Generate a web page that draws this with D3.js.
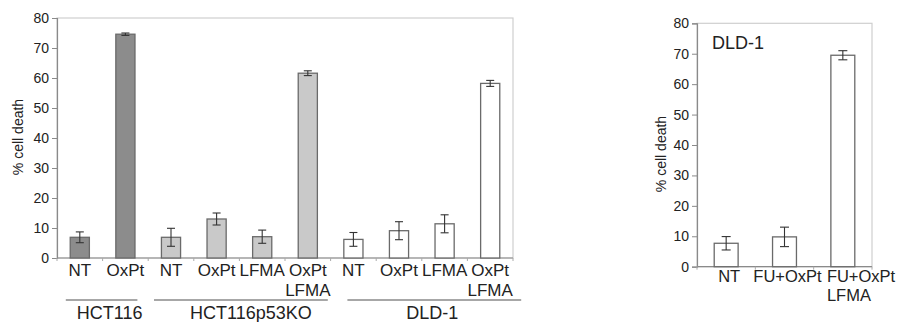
<!DOCTYPE html>
<html>
<head>
<meta charset="utf-8">
<script src="https://cdn.jsdelivr.net/npm/d3@7"></script>
<style>
  body { margin: 0; background: #fff; }
  svg { display: block; font-family: "Liberation Sans", Arial, sans-serif; }
</style>
</head>
<body>
<svg width="899" height="322"></svg>
<script>
// left panel data
const leftLabels = [["NT"], ["OxPt"], ["NT"], ["OxPt"], ["LFMA"], ["OxPt", "LFMA"], ["NT"], ["OxPt"], ["LFMA"], ["OxPt", "LFMA"]];
const leftGroups = ["HCT116", "HCT116", "HCT116p53KO", "HCT116p53KO", "HCT116p53KO", "HCT116p53KO", "DLD-1", "DLD-1", "DLD-1", "DLD-1"];
const leftValues = [6.9, 74.6, 6.9, 13.0, 7.1, 61.6, 6.2, 9.1, 11.4, 58.2];
const leftErrors = [1.8, 0.4, 3.0, 2.0, 2.2, 0.8, 2.3, 3.0, 3.0, 1.0];
const groupNames = ["HCT116", "HCT116p53KO", "DLD-1"];

// right panel data
const rightLabels = [["NT"], ["FU+OxPt"], ["FU+OxPt", "LFMA"]];
const rightValues = [7.7, 9.8, 69.5];
const rightErrors = [2.2, 3.2, 1.5];
const rightTitle = "DLD-1";

const yTicks = [0, 10, 20, 30, 40, 50, 60, 70, 80];
const yLabel = "% cell death";

// styling
const groupFill = { "HCT116": "#8c8c8c", "HCT116p53KO": "#c9c9c9", "DLD-1": "#ffffff" };
// per group line padding [left, right] and label shift
const groupLayout = {
  "HCT116": { l: 14, r: 12, dx: 8 },
  "HCT116p53KO": { l: 17, r: 20, dx: 10 },
  "DLD-1": { l: 6, r: 31, dx: -2 }
};
const textColor = "#222";

const svg = d3.select("svg");

function panel(cfg) {
  const x = d3.scaleBand()
    .domain(d3.range(cfg.values.length))
    .range([cfg.x0, cfg.x1])
    .paddingInner(cfg.padIn)
    .paddingOuter(cfg.padIn / 2);
  const y = d3.scaleLinear().domain([0, 80]).range([cfg.y0, cfg.y1]);

  const g = svg.append("g");

  // frame
  g.append("rect")
    .attr("x", cfg.x0).attr("y", cfg.y1)
    .attr("width", cfg.x1 - cfg.x0).attr("height", cfg.y0 - cfg.y1)
    .attr("fill", "none").attr("stroke", "#cfcfcf").attr("stroke-width", 1.2);

  // y axis
  const yAxis = g.append("g")
    .attr("transform", "translate(" + cfg.x0 + ",0)")
    .call(d3.axisLeft(y).tickValues(yTicks).tickSize(5).tickPadding(3));
  yAxis.select(".domain").attr("stroke", "#8a8a8a").attr("stroke-width", 1.2);
  yAxis.selectAll(".tick line").attr("stroke", "#8a8a8a");
  yAxis.selectAll(".tick text")
    .attr("fill", textColor)
    .style("font-size", "14px")
    .style("font-family", "Liberation Sans, Arial, sans-serif");

  // x axis baseline + small ticks at band edges
  g.append("line")
    .attr("x1", cfg.x0).attr("x2", cfg.x1)
    .attr("y1", y(0)).attr("y2", y(0))
    .attr("stroke", "#8a8a8a").attr("stroke-width", 1.2);
  const step = x.step();
  g.selectAll(".xt")
    .data(d3.range(cfg.values.length + 1))
    .enter().append("line")
    .attr("x1", i => cfg.x0 + i * step).attr("x2", i => cfg.x0 + i * step)
    .attr("y1", y(0)).attr("y2", y(0) + 3)
    .attr("stroke", "#aaa");

  // bars
  g.selectAll(".bar")
    .data(cfg.values)
    .enter().append("rect")
    .attr("x", (d, i) => x(i))
    .attr("y", d => y(d))
    .attr("width", x.bandwidth())
    .attr("height", d => y(0) - y(d))
    .attr("fill", (d, i) => cfg.fill(i))
    .attr("stroke", "#6a6a6a")
    .attr("stroke-width", 1.3);

  // error bars
  const eb = g.selectAll(".err")
    .data(cfg.values.map((v, i) => ({ v: v, e: cfg.errors[i], i: i })))
    .enter().append("g")
    .attr("stroke", "#333").attr("stroke-width", 1.1);
  const cx = d => x(d.i) + x.bandwidth() / 2;
  eb.append("line")
    .attr("x1", cx).attr("x2", cx)
    .attr("y1", d => y(d.v + d.e)).attr("y2", d => y(d.v - d.e));
  [1, -1].forEach(s => {
    eb.append("line")
      .attr("x1", d => cx(d) - cfg.cap).attr("x2", d => cx(d) + cfg.cap)
      .attr("y1", d => y(d.v + s * d.e)).attr("y2", d => y(d.v + s * d.e));
  });

  // category labels
  const lab = g.selectAll(".lab")
    .data(cfg.labels)
    .enter().append("text")
    .attr("text-anchor", (d, i) => cfg.anchor(i))
    .attr("fill", textColor)
    .style("font-size", cfg.labelSize + "px")
    .attr("transform", (d, i) => "translate(" +
      (cfg.anchor(i) === "start" ? x(i) - 4 : x(i) + x.bandwidth() / 2 + cfg.labelDx) +
      "," + cfg.labelY + ")");
  lab.selectAll("tspan")
    .data(d => d)
    .enter().append("tspan")
    .attr("x", 0)
    .attr("y", (d, j) => j * cfg.lineGap)
    .text(d => d);

  // y label
  g.append("text")
    .attr("transform", "translate(" + cfg.ylabX + "," + cfg.ylabY + ") rotate(-90)")
    .attr("text-anchor", "middle")
    .attr("fill", textColor)
    .style("font-size", "14px")
    .text(yLabel);

  return { x: x, y: y, g: g };
}

// left panel
const left = panel({
  values: leftValues, errors: leftErrors, labels: leftLabels,
  x0: 57, x1: 513, y0: 258, y1: 18, padIn: 0.58, cap: 4,
  fill: i => groupFill[leftGroups[i]],
  anchor: () => "middle", labelDx: 0,
  labelY: 276, labelSize: 17, lineGap: 20,
  ylabX: 23, ylabY: 137
});

// group lines and labels
groupNames.forEach(name => {
  const idx = leftGroups.map((gname, i) => gname === name ? i : -1).filter(i => i >= 0);
  const bw = left.x.bandwidth();
  const a = left.x(idx[0]) + bw / 2 - groupLayout[name].l;
  const b = left.x(idx[idx.length - 1]) + bw / 2 + groupLayout[name].r;
  left.g.append("line")
    .attr("x1", a).attr("x2", b).attr("y1", 300).attr("y2", 300)
    .attr("stroke", "#8a8a8a").attr("stroke-width", 1.5);
  left.g.append("text")
    .attr("x", (a + b) / 2 + groupLayout[name].dx).attr("y", 319)
    .attr("text-anchor", "middle")
    .attr("fill", textColor)
    .style("font-size", "18px")
    .text(name);
});

// right panel
const right = panel({
  values: rightValues, errors: rightErrors, labels: rightLabels,
  x0: 697, x1: 872, y0: 266.7, y1: 23.3, padIn: 0.59, cap: 4.5,
  fill: () => "#ffffff",
  anchor: i => i === rightLabels.length - 1 ? "start" : "middle", labelDx: 3,
  labelY: 282, labelSize: 16.5, lineGap: 19,
  ylabX: 666, ylabY: 154
});
right.g.append("text")
  .attr("x", 712).attr("y", 49)
  .attr("fill", textColor)
  .style("font-size", "18px")
  .text(rightTitle);
</script>
</body>
</html>
